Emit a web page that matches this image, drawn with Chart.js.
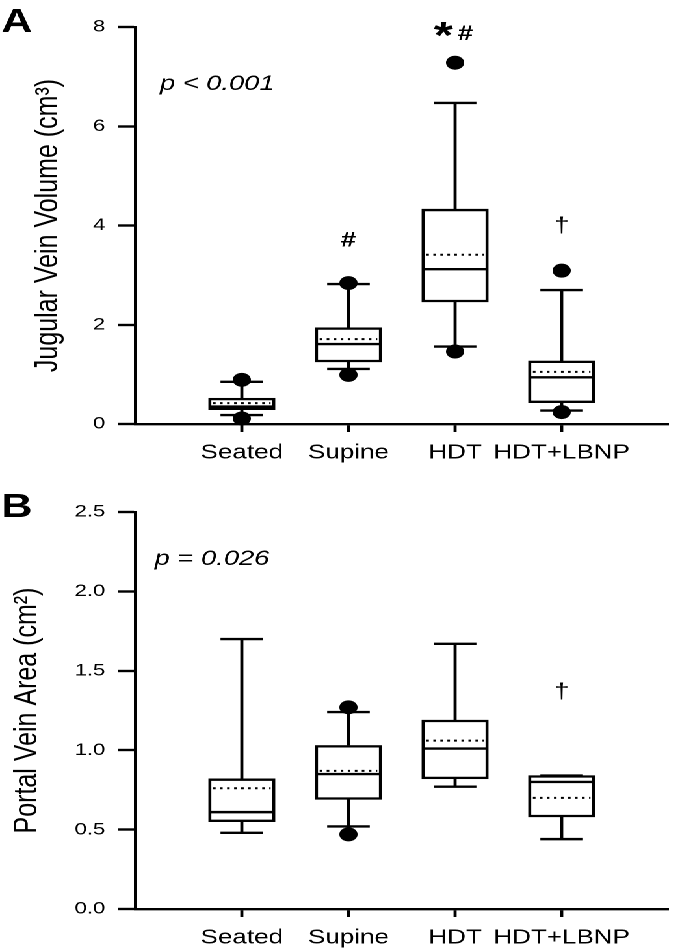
<!DOCTYPE html>
<html>
<head>
<meta charset="utf-8">
<script src="https://cdn.jsdelivr.net/npm/chart.js@4.4.1/dist/chart.umd.min.js"></script>
<style>
  html, body { margin: 0; padding: 0; background: #fff; }
  /* the original figure is stretched sideways, so draw narrow and widen */
  #page { width: 523px; transform: scaleX(1.3002); transform-origin: 0 0; }
  .panel { position: relative; width: 523px; height: 475px; }
</style>
</head>
<body>
<div id="page">
  <div class="panel"><canvas id="jugular"></canvas></div>
  <div class="panel"><canvas id="portal"></canvas></div>
</div>
<script>
const categories = ['Seated', 'Supine', 'HDT', 'HDT+LBNP'];

// A: jugular vein volume (cm3)
const jugularMin = [0.18, 1.11, 1.56, 0.27];
const jugularQ1 = [0.29, 1.25, 2.46, 0.43];
const jugularMedian = [0.35, 1.61, 3.12, 0.94];
const jugularMean = [0.42, 1.71, 3.41, 1.05];
const jugularQ3 = [0.52, 1.94, 4.33, 1.27];
const jugularMax = [0.85, 2.82, 6.47, 2.70];
const jugularOutliers = [[0.89, 0.11], [2.84, 0.99], [7.28, 1.46], [3.09, 0.24]];
const jugularTicks = [0, 2, 4, 6, 8];

// B: portal vein area (cm2)
const portalMin = [0.48, 0.52, 0.77, 0.44];
const portalQ1 = [0.55, 0.69, 0.82, 0.58];
const portalMedian = [0.61, 0.85, 1.01, 0.80];
const portalMean = [0.76, 0.87, 1.06, 0.70];
const portalQ3 = [0.82, 1.03, 1.19, 0.84];
const portalMax = [1.70, 1.24, 1.67, 0.84];
const portalOutliers = [[], [1.27, 0.47], [], []];
const portalTicks = [0, 0.5, 1.0, 1.5, 2.0, 2.5];

Chart.defaults.font.family = '"Liberation Sans", Arial, Helvetica, sans-serif';
Chart.defaults.color = '#000';

// line pieces, broken apart by null points
function pieces(list) {
  const pts = [];
  list.forEach(p => {
    pts.push({x: p[0], y: p[1]}, {x: p[2], y: p[3]}, {x: p[2], y: null});
  });
  return pts;
}

function boxDatasets(min, q1, median, mean, q3, max, outliers) {
  const xs = categories.map((c, i) => i + 1);
  const line = {type: 'line', showLine: true, borderColor: '#000', borderWidth: 2.4, pointRadius: 0, fill: false, tension: 0};
  return [
    {
      type: 'scatter',
      data: outliers.flatMap((vals, i) => vals.map(v => ({x: i + 1, y: v}))),
      pointRadius: 7, pointBackgroundColor: '#000', pointBorderWidth: 0,
      clip: false, order: 0
    },
    Object.assign({}, line, {
      data: pieces(xs.map((x, i) => [x - 0.27, mean[i], x + 0.27, mean[i]])),
      borderWidth: 2, borderDash: [2, 3.4], order: 1
    }),
    Object.assign({}, line, {
      data: pieces(xs.map((x, i) => [x - 0.29, median[i], x + 0.29, median[i]])),
      order: 2
    }),
    {
      type: 'bar',
      data: xs.map((x, i) => ({x: x, y: [q1[i], q3[i]]})),
      backgroundColor: '#fff', borderColor: '#000', borderWidth: 2.4,
      borderSkipped: false, barThickness: 51, order: 3
    },
    Object.assign({}, line, {
      data: pieces(xs.flatMap((x, i) => [[x - 0.2, max[i], x + 0.2, max[i]], [x - 0.2, min[i], x + 0.2, min[i]]])),
      order: 4
    }),
    Object.assign({}, line, {
      data: pieces(xs.flatMap((x, i) => [[x, q3[i], x, max[i]], [x, q1[i], x, min[i]]])),
      order: 5
    })
  ];
}

const notes = {
  id: 'notes',
  afterDraw(chart, args, opts) {
    const {ctx, scales: {x, y}} = chart;
    ctx.save();
    ctx.fillStyle = '#000';
    ctx.textAlign = 'left';
    ctx.textBaseline = 'alphabetic';
    ctx.font = 'bold 33px "Liberation Sans", Arial, sans-serif';
    ctx.fillText(opts.letter, 1, opts.letterBase);
    ctx.font = 'italic 21px "Liberation Sans", Arial, sans-serif';
    ctx.fillText(opts.p, opts.pLeft, opts.pBase);
    ctx.textAlign = 'center';
    opts.marks.forEach(m => {
      ctx.font = m.font;
      ctx.textBaseline = m.base || 'middle';
      ctx.fillText(m.text, x.getPixelForValue(m.cat) + (m.dx || 0), y.getPixelForValue(m.at) + (m.dy || 0));
    });
    ctx.restore();
  }
};

function makeChart(id, cfg) {
  const ticks = cfg.ticks;
  return new Chart(document.getElementById(id), {
    type: 'scatter',
    data: {datasets: cfg.datasets},
    options: {
      responsive: true,
      maintainAspectRatio: false,
      animation: false,
      events: [],
      devicePixelRatio: 2,
      layout: {padding: {top: cfg.top, right: 2, left: 0, bottom: 0}},
      plugins: {legend: {display: false}, tooltip: {enabled: false}, notes: cfg.notes},
      scales: {
        x: {
          type: 'linear', min: 0, max: categories.length + 1, offset: false,
          grid: {
            drawOnChartArea: false, offset: false, tickLength: 8, tickWidth: 2.4,
            tickColor: c => (c.tick && c.tick.value >= 1 && c.tick.value <= categories.length) ? '#000' : 'rgba(0,0,0,0)'
          },
          border: {color: '#000', width: 2.4},
          ticks: {
            stepSize: 1, autoSkip: false, maxRotation: 0, padding: 9,
            font: {size: 20},
            callback: v => categories[v - 1] || ''
          },
          afterFit: s => { s.height = cfg.xHeight; }
        },
        y: {
          type: 'linear', min: ticks[0], max: ticks[ticks.length - 1],
          grid: {drawOnChartArea: false, tickLength: 13, tickWidth: 2.4, tickColor: '#000'},
          border: {color: '#000', width: 2.4},
          ticks: {
            stepSize: ticks[1] - ticks[0], padding: 10, font: {size: 17},
            callback: cfg.tickFormat
          },
          title: {display: true, text: cfg.title, font: {size: 25}, padding: {top: cfg.titlePad, bottom: 0}},
          afterFit: s => { s.width = 104; }
        }
      }
    },
    plugins: [notes]
  });
}

makeChart('jugular', {
  datasets: boxDatasets(jugularMin, jugularQ1, jugularMedian, jugularMean, jugularQ3, jugularMax, jugularOutliers),
  ticks: jugularTicks,
  tickFormat: v => String(v),
  title: 'Jugular Vein Volume (cm³)',
  titlePad: 22,
  top: 27,
  xHeight: 51,
  notes: {
    letter: 'A', letterBase: 32,
    p: 'p < 0.001', pLeft: 123, pBase: 90,
    marks: [
      {text: '#', cat: 2, at: 3.69, font: 'bold 21px "Liberation Sans", Arial, sans-serif'},
      {text: '*', cat: 3, at: 7.9, dx: -9, dy: 16, base: 'alphabetic', font: 'bold 38px "Liberation Sans", Arial, sans-serif'},
      {text: '#', cat: 3, at: 7.9, dx: 8, dy: 2, font: 'bold 21px "Liberation Sans", Arial, sans-serif'},
      {text: '†', cat: 4, at: 3.99, font: '21px "Liberation Sans", Arial, sans-serif'}
    ]
  }
});

makeChart('portal', {
  datasets: boxDatasets(portalMin, portalQ1, portalMedian, portalMean, portalQ3, portalMax, portalOutliers),
  ticks: portalTicks,
  tickFormat: v => v.toFixed(1),
  title: 'Portal Vein Area (cm²)',
  titlePad: 6,
  top: 37,
  xHeight: 41,
  notes: {
    letter: 'B', letterBase: 42,
    p: 'p = 0.026', pLeft: 119, pBase: 90,
    marks: [
      {text: '†', cat: 4, at: 1.366, font: '21px "Liberation Sans", Arial, sans-serif'}
    ]
  }
});
</script>
</body>
</html>
